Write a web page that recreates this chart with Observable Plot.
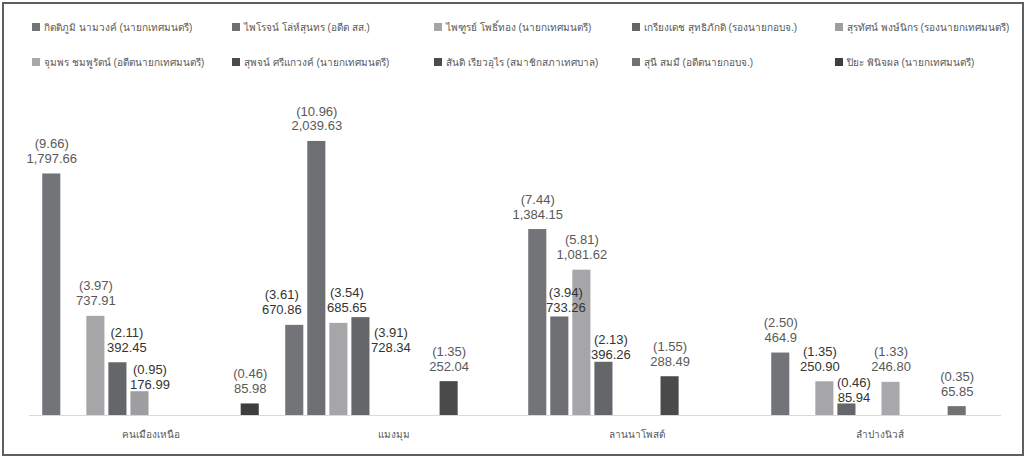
<!DOCTYPE html>
<html>
<head>
<meta charset="utf-8">
<script src="https://cdn.jsdelivr.net/npm/d3@7"></script>
<script src="https://cdn.jsdelivr.net/npm/@observablehq/plot@0.6"></script>
<style>
  html, body { margin: 0; padding: 0; background: #fff; }
  body { width: 1027px; height: 457px; position: relative; overflow: hidden;
         font-family: "Liberation Sans", Arial, "Noto Sans", sans-serif; }
  #frame { position: absolute; left: 2px; top: 2px; width: 1022px; height: 454px;
           box-sizing: border-box; border: 2px solid #5f5f5f; }
  #legend { position: absolute; left: 0; top: 0; width: 1027px; height: 90px; }
  .item { position: absolute; display: flex; align-items: center; font-size: 10px; color: #595959; white-space: nowrap; }
  .sw { width: 8px; height: 8px; margin-right: 4px; display: inline-block; }
  #chart { position: absolute; left: 0; top: 90px; }
</style>
</head>
<body>
<div id="frame"></div>
<div id="legend"></div>
<div id="chart"></div>
<script>
// ---- data ----
const categories = ["คนเมืองเหนือ", "แมงมุม", "ลานนาโพสต์", "ลำปางนิวส์"];
const seriesNames = [
  "กิตติภูมิ นามวงค์ (นายกเทศมนตรี)",
  "ไพโรจน์ โล่ห์สุนทร (อดีต สส.)",
  "ไพฑูรย์ โพธิ์ทอง (นายกเทศมนตรี)",
  "เกรียงเดช สุทธิภักดิ (รองนายกอบจ.)",
  "สุรทัศน์ พงษ์นิกร (รองนายกเทศมนตรี)",
  "จุมพร ชมพูรัตน์ (อดีตนายกเทศมนตรี)",
  "สุพจน์ ศรีแกวงค์ (นายกเทศมนตรี)",
  "สันติ เรียวอุไร (สมาชิกสภาเทศบาล)",
  "สุนี สมมี (อดีตนายกอบจ.)",
  "ปิยะ พินิจผล (นายกเทศมนตรี)"
];
const seriesColors = ["#737478", "#6e6f73", "#a6a6a8", "#656669", "#9e9ea0",
                      "#a9a9ab", "#4a4a4c", "#4b4b4d", "#717174", "#3e3e40"];
// one entry per bar: category index, series index, value, value text, percent text
const barCategory = [0, 0, 0, 0, 0,   1, 1, 1, 1, 1,   2, 2, 2, 2, 2,   3, 3, 3, 3, 3];
const barSeries   = [0, 2, 3, 4, 9,   0, 1, 2, 3, 7,   0, 1, 2, 3, 6,   0, 2, 3, 5, 8];
const barValues   = [1797.66, 737.91, 392.45, 176.99, 85.98,
                     670.86, 2039.63, 685.65, 728.34, 252.04,
                     1384.15, 733.26, 1081.62, 396.26, 288.49,
                     464.9, 250.90, 85.94, 246.80, 65.85];
const valueLabels = ["1,797.66", "737.91", "392.45", "176.99", "85.98",
                     "670.86", "2,039.63", "685.65", "728.34", "252.04",
                     "1,384.15", "733.26", "1,081.62", "396.26", "288.49",
                     "464.9", "250.90", "85.94", "246.80", "65.85"];
const pctLabels   = ["9.66", "3.97", "2.11", "0.95", "0.46",
                     "3.61", "10.96", "3.54", "3.91", "1.35",
                     "7.44", "3.94", "5.81", "2.13", "1.55",
                     "2.50", "1.35", "0.46", "1.33", "0.35"];

// ---- label layout (pixel nudges that mimic the hand-placed labels of the original) ----
const labelDx = [0, 0, 9, 10, 0,   -13, 0, 8, 30, 0,   0, 6, 0, 7, 0,   0, -5, 7, 0, 0];
const labelDy = [0, 0, 0, 8, 0,    0, 0, 0, 45, 0,    0, 6, 0, 8, 0,   0, 0, 9, 0, 0];
const labelDark = [false, false, true, true, false,  true, false, true, true, false,
                   false, true, false, true, false,  false, true, true, false, false];

const rows = barValues.map((v, i) => ({
  cat: categories[barCategory[i]],
  series: seriesNames[barSeries[i]],
  value: v,
  text: `(${pctLabels[i]})\n${valueLabels[i]}`
}));

// ---- legend ----
const legend = document.getElementById("legend");
const colX = [32, 232, 434, 632, 835];
const rowY = [27, 62];
seriesNames.forEach((name, i) => {
  const it = document.createElement("div");
  it.className = "item";
  it.style.left = colX[i % 5] + "px";
  it.style.top = (rowY[Math.floor(i / 5)] - 8) + "px";
  it.style.height = "16px";
  const sw = document.createElement("span");
  sw.className = "sw";
  sw.style.background = seriesColors[i];
  const tx = document.createElement("span");
  tx.textContent = name;
  it.append(sw, tx);
  legend.append(it);
});

// ---- chart ----
const labelMarks = rows.map((r, i) => Plot.text([r], {
  fx: "cat", x: "series", y: "value", text: "text",
  lineAnchor: "bottom", dx: labelDx[i], dy: -11 + labelDy[i],
  fontSize: 13, lineHeight: 1.15,
  fill: labelDark[i] ? "#333333" : "#595959"
}));

const chart = Plot.plot({
  width: 1027,
  height: 357,
  marginLeft: 27,
  marginRight: 25,
  marginTop: 20,
  marginBottom: 32,
  style: { fontFamily: "'Liberation Sans', Arial, 'Noto Sans', sans-serif", background: "transparent" },
  fx: { domain: categories, padding: 0, label: null, axis: "bottom", tickSize: 0, tickPadding: 15, fontSize: 12 },
  x: { domain: seriesNames, paddingInner: 0.18, paddingOuter: 0.6, round: false, axis: null },
  y: { domain: [0, 2270], axis: null },
  color: { domain: seriesNames, range: seriesColors },
  marks: [
    Plot.ruleY([0], { stroke: "#d9d9d9", strokeWidth: 1 }),
    Plot.barY(rows, { fx: "cat", x: "series", y: "value", fill: "series" }),
    ...labelMarks
  ]
});
chart.querySelectorAll("g[aria-label='fx-axis tick label']").forEach(n => n.setAttribute("fill", "#595959"));
document.getElementById("chart").append(chart);
</script>
</body>
</html>
